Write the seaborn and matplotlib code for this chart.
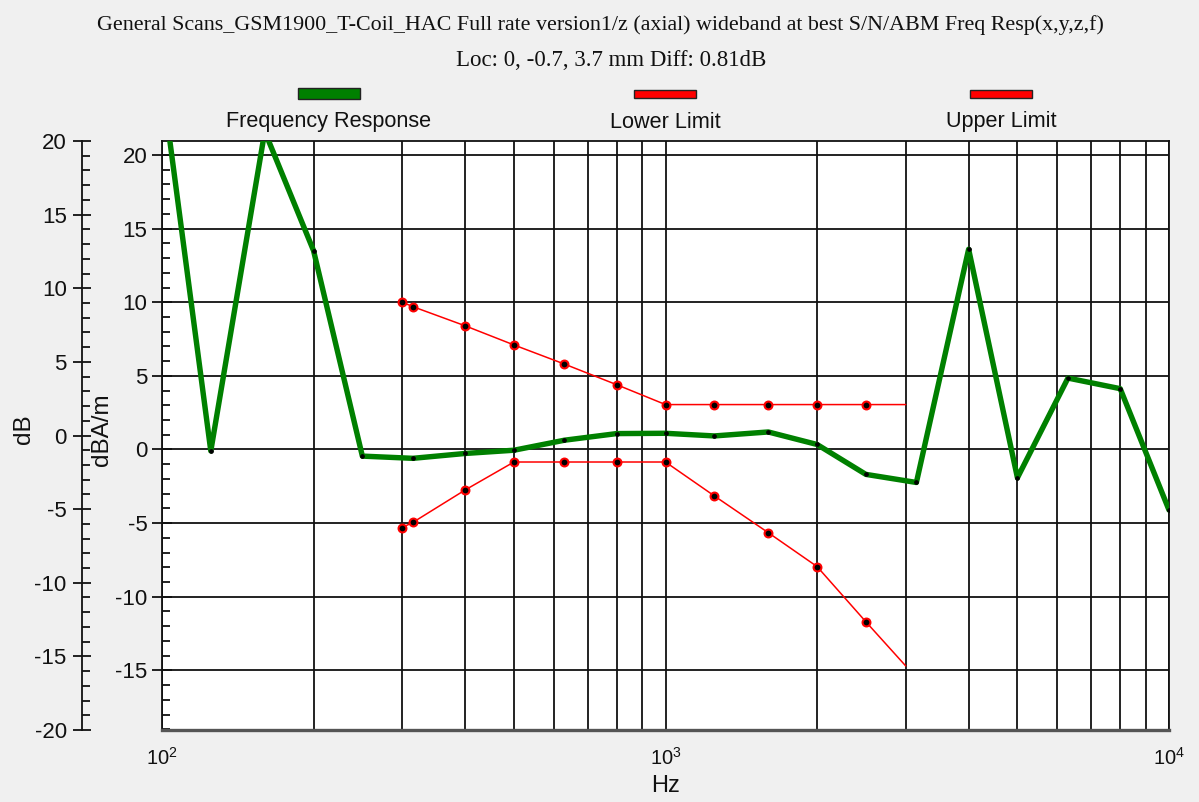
import matplotlib
matplotlib.use("Agg")
import matplotlib.pyplot as plt
from matplotlib.patches import Rectangle
from matplotlib.ticker import MultipleLocator, LogLocator, NullFormatter
import pandas as pd
import seaborn as sns

# frequency response (dBA/m), 1/3-octave bands
freq_hz = [100, 125, 160, 200, 250, 315, 400, 500, 630, 800, 1000, 1250,
           1600, 2000, 2500, 3150, 4000, 5000, 6300, 8000, 10000]
response_db = [25.0, -0.1, 21.6, 13.5, -0.45, -0.6, -0.27, -0.05, 0.63, 1.08, 1.1,
               0.92, 1.19, 0.34, -1.69, -2.24, 13.6, -1.92, 4.85, 4.13, -4.11]

# mask limits
limit_hz = [300, 315, 400, 500, 630, 800, 1000, 1250, 1600, 2000, 2500, 3000]
lower_db = [-5.3, -4.95, -2.75, -0.85, -0.85, -0.85, -0.85, -3.15, -5.65, -7.95, -11.7, -14.7]
upper_db = [10.0, 9.7, 8.4, 7.1, 5.8, 4.4, 3.05, 3.05, 3.05, 3.05, 3.05, 3.05]

title1 = "General Scans_GSM1900_T-Coil_HAC Full rate version1/z (axial) wideband at best S/N/ABM Freq Resp(x,y,z,f)"
title2 = "Loc: 0, -0.7, 3.7 mm Diff: 0.81dB"
legend_names = ["Frequency Response", "Lower Limit", "Upper Limit"]

resp = pd.DataFrame({"Hz": freq_hz, "val": response_db})
low = pd.DataFrame({"Hz": limit_hz, "val": lower_db})
up = pd.DataFrame({"Hz": limit_hz, "val": upper_db})

sns.set_style("white")
plt.rcParams["font.family"] = ["Liberation Sans", "DejaVu Sans"]
plt.rcParams["axes.unicode_minus"] = False

W, H = 1199, 802
fig = plt.figure(figsize=(W / 100, H / 100), dpi=100, facecolor="#f0f0f0")
ax = fig.add_axes([162 / W, 1 - 730 / H, 1007 / W, 589 / H])
ax.set_facecolor("white")
ax.set_xscale("log")

ink = "#111111"
grid_kw = dict(color=ink, linewidth=1.3)
ax.grid(which="major", axis="y", **grid_kw)
ax.grid(which="both", axis="x", **grid_kw)
ax.set_axisbelow(True)

sns.lineplot(data=low, x="Hz", y="val", ax=ax, color="red", linewidth=1.1, zorder=3, legend=False)
sns.lineplot(data=up, x="Hz", y="val", ax=ax, color="red", linewidth=1.1, zorder=3, legend=False)
sns.scatterplot(data=low.iloc[:-1], x="Hz", y="val", ax=ax, color="black", edgecolor="red",
                linewidth=1.5, s=32, zorder=4, legend=False)
sns.scatterplot(data=up.iloc[:-1], x="Hz", y="val", ax=ax, color="black", edgecolor="red",
                linewidth=1.5, s=32, zorder=4, legend=False)
sns.lineplot(data=resp, x="Hz", y="val", ax=ax, color="#008000", linewidth=3.9, zorder=5,
             marker="o", markersize=2.6, markerfacecolor="black", markeredgecolor="black",
             legend=False)

ax.set_xlim(100, 10000)
ax.set_ylim(-19.05, 20.95)
ax.xaxis.set_major_locator(LogLocator(base=10))
ax.xaxis.set_minor_locator(LogLocator(base=10, subs=range(2, 10)))
ax.xaxis.set_minor_formatter(NullFormatter())
ax.yaxis.set_major_locator(MultipleLocator(5))
ax.yaxis.set_minor_locator(MultipleLocator(1))

ax.tick_params(axis="y", which="major", direction="inout", length=14, width=1.3,
               pad=3.5, labelsize=16, colors=ink)
ax.tick_params(axis="y", which="minor", direction="in", length=5.5, width=1.3, color=ink)
ax.tick_params(axis="x", which="major", direction="out", length=10, width=1.3,
               pad=2, labelsize=14.5, colors=ink)
ax.tick_params(axis="x", which="minor", length=0)

for side in ["top", "left", "right"]:
    ax.spines[side].set_color(ink)
    ax.spines[side].set_linewidth(1.3)
ax.spines["bottom"].set_color("#555555")
ax.spines["bottom"].set_linewidth(2.4)

ax.set_xlabel("Hz", fontsize=17, color=ink)
ax.xaxis.set_label_coords(0.5, -0.077)
ax.set_ylabel("dBA/m", fontsize=17.5, color=ink)
ax.yaxis.set_label_coords(-0.049, 0.51)

# outer dB axis
tw = ax.twinx()
tw.set_ylim(-20, 20)
tw.yaxis.tick_left()
tw.yaxis.set_label_position("left")
tw.spines["left"].set_position(("outward", 57.6))
tw.spines["left"].set_color(ink)
tw.spines["left"].set_linewidth(1.3)
for side in ["top", "right", "bottom"]:
    tw.spines[side].set_visible(False)
tw.yaxis.set_major_locator(MultipleLocator(5))
tw.yaxis.set_minor_locator(MultipleLocator(1))
tw.tick_params(axis="y", which="major", direction="inout", length=13, width=1.3,
               pad=4.5, labelsize=16, colors=ink)
tw.tick_params(axis="y", which="minor", direction="in", length=5.5, width=1.3, color=ink)
tw.set_ylabel("dB", fontsize=17.5, color=ink)
tw.yaxis.set_label_coords(-0.126, 0.51)

# titles
serif = ["Liberation Serif", "DejaVu Serif"]
fig.text(600 / W, 1 - 25 / H, title1, ha="center", va="center", fontsize=15.8,
         family=serif, color=ink)
fig.text(611 / W, 1 - 61 / H, title2, ha="center", va="center", fontsize=16.5,
         family=serif, color=ink)

# legend: swatch above name
swatches = [("#008000", 88, 11), ("red", 90, 8), ("red", 90, 8)]
centers = [329, 665, 1001]
for (col, top, hgt), cx, name in zip(swatches, centers, legend_names):
    fig.add_artist(Rectangle(((cx - 31) / W, 1 - (top + hgt) / H), 62 / W, hgt / H,
                             transform=fig.transFigure, facecolor=col,
                             edgecolor="#222222", linewidth=1))
    fig.text(cx / W, 1 - 122 / H, name, ha="center", va="center", fontsize=15.6, color=ink)

fig.savefig("out.png", dpi=100, facecolor=fig.get_facecolor())
